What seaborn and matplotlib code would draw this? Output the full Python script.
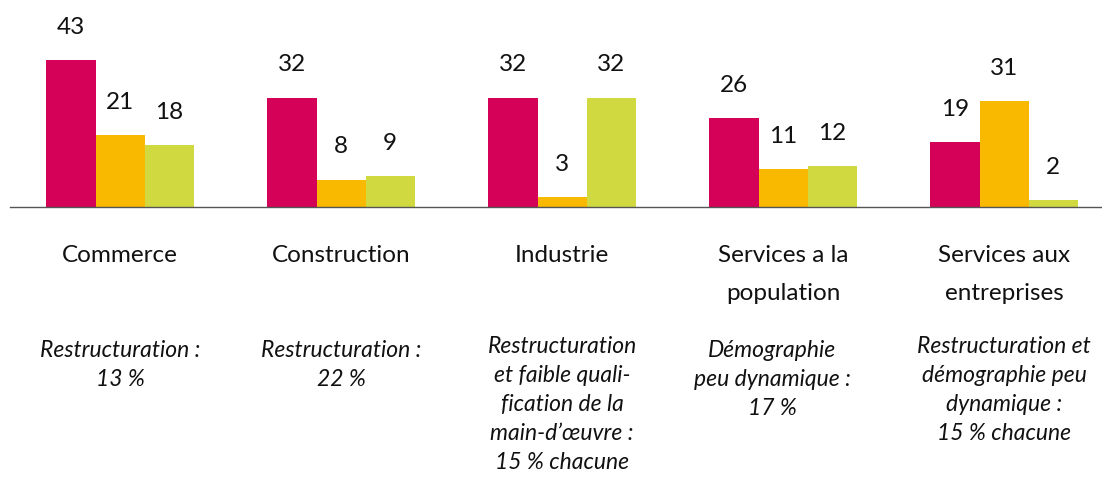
import matplotlib
matplotlib.use("Agg")
import matplotlib.pyplot as plt
import seaborn as sns
import pandas as pd

# Sector data: three indicators per sector
secteurs = ["Commerce", "Construction", "Industrie",
            "Services a la population", "Services aux entreprises"]
libelles_secteurs = ["Commerce", "Construction", "Industrie",
                     "Services a la\npopulation", "Services aux\nentreprises"]
series = ["A", "B", "C"]
valeurs_a = [43, 32, 32, 26, 19]
valeurs_b = [21, 8, 3, 11, 31]
valeurs_c = [18, 9, 32, 12, 2]
couleurs = ["#D50057", "#F9B900", "#D1D940"]

notes = [
    "Restructuration :\n13 %",
    "Restructuration :\n22 %",
    "Restructuration\net faible quali-\nfication de la\nmain-d\u2019\u0153uvre :\n15 % chacune",
    "D\u00e9mographie\npeu dynamique :\n17 %",
    "Restructuration et\nd\u00e9mographie peu\ndynamique :\n15 % chacune",
]

df = pd.DataFrame({
    "secteur": secteurs * 3,
    "serie": [s for s in series for _ in secteurs],
    "valeur": valeurs_a + valeurs_b + valeurs_c,
})

sns.set_theme(style="white")
plt.rcParams["font.family"] = ["Lato", "DejaVu Sans"]

W, H = 1102, 479
fig = plt.figure(figsize=(W / 100, H / 100), dpi=100)
base_px = 207          # baseline position from the top, in pixels
px_per_unit = 3.42
ax = fig.add_axes([10 / W, (H - base_px) / H, (W - 10) / W, base_px / H])

sns.barplot(data=df, x="secteur", y="valeur", hue="serie", order=secteurs,
            hue_order=series, palette=couleurs, width=0.666, dodge=True,
            saturation=1, legend=False, ax=ax, linewidth=0)

ax.set_ylim(0, base_px / px_per_unit)
ax.set_xlim(-0.498, 4.443)

for cont in ax.containers:
    ax.bar_label(cont, labels=[f"{v:g}" for v in cont.datavalues],
                 padding=16, fontsize=17.5, color="#111111")

for sp in ["top", "left", "right"]:
    ax.spines[sp].set_visible(False)
ax.spines["bottom"].set_color("#555555")
ax.spines["bottom"].set_linewidth(1.0)
ax.set_xticks([])
ax.set_yticks([])
ax.set_xlabel("")
ax.set_ylabel("")

# Sector names under the axis
for i, lab in enumerate(libelles_secteurs):
    ax.annotate(lab, xy=(i, 0), xycoords=("data", "axes fraction"),
                xytext=(0, -27), textcoords="offset points",
                ha="center", va="top", fontsize=17.5, linespacing=2.03,
                color="#111111")

# Main causes under each sector
note_dx = [0, 0, 0, -8, 0]
note_dy = [-96, -96, -93, -96, -93]
for i, txt in enumerate(notes):
    ax.annotate(txt, xy=(i, 0), xycoords=("data", "axes fraction"),
                xytext=(note_dx[i], note_dy[i]), textcoords="offset points",
                ha="center", va="top", fontsize=16.5, style="italic",
                linespacing=1.47, color="#111111")

fig.savefig("out.png", dpi=100)
